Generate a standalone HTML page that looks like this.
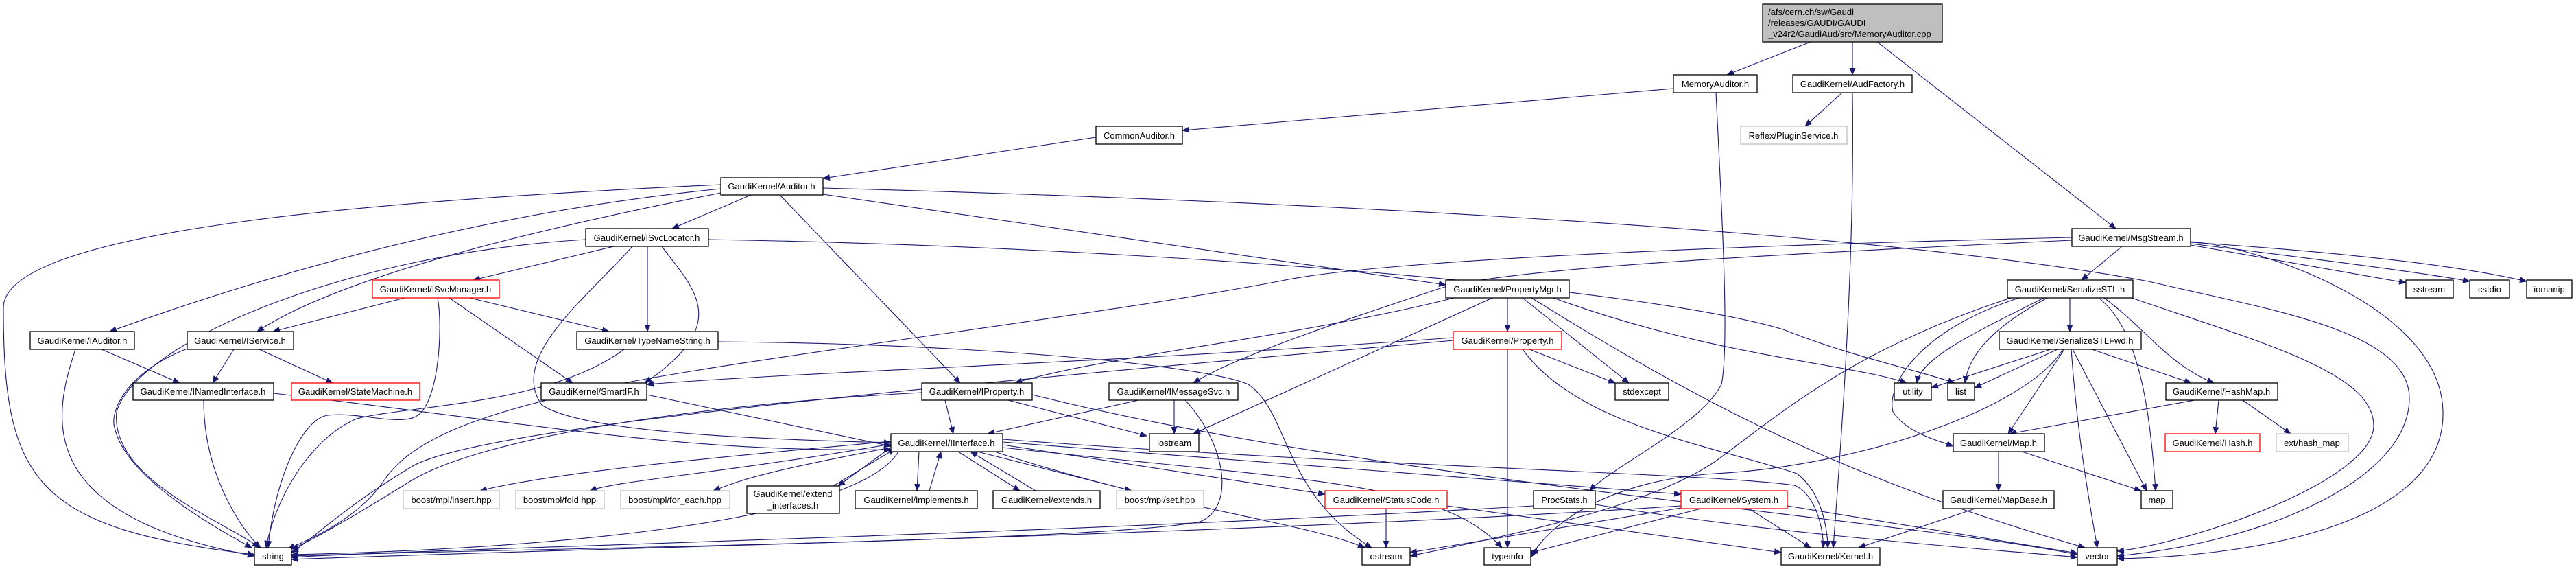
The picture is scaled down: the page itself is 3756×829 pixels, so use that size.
<!DOCTYPE html>
<html><head><meta charset="utf-8">
<style>
html,body{margin:0;padding:0;background:#fff;}
svg{display:block;}
text{font-family:"Liberation Sans",sans-serif;font-size:13px;fill:#000;}
.e{fill:none;stroke:#191970;stroke-width:1.1;marker-end:url(#a);}
.n{fill:#fff;stroke:#000;stroke-width:1.3;}
.r{fill:#fff;stroke:#ff0000;stroke-width:1.3;}
.g{fill:#fff;stroke:#bfbfbf;stroke-width:1.3;}
</style></head><body>
<svg width="3756" height="829" viewBox="0 0 3756 829" xmlns="http://www.w3.org/2000/svg">
<defs><marker id="a" markerUnits="userSpaceOnUse" markerWidth="11" markerHeight="9" refX="10" refY="4.5" orient="auto"><path d="M0,0 L11,4.5 L0,9 z" fill="#191970"/></marker></defs>
<g>
<path class="e" d="M2640,61 L2518,109"/>
<path class="e" d="M2701,61 L2701,109"/>
<path class="e" d="M2737,61 L3085,333"/>
<path class="e" d="M2440,129 L1724,190"/>
<path class="e" d="M2502,135 C2510,300 2522,500 2510,560 C2480,620 2350,680 2318,715"/>
<path class="e" d="M2686,135 L2632,184"/>
<path class="e" d="M2701,135 C2705,400 2680,700 2673,798"/>
<path class="e" d="M1598,200 L1200,260"/>
<path class="e" d="M1051,269 C600,290 0,330 5,450 C5,700 50,770 371,808"/>
<path class="e" d="M1051,275 C800,300 500,360 160,483"/>
<path class="e" d="M1051,281 C800,330 500,400 375,483"/>
<path class="e" d="M1095,284 L980,333"/>
<path class="e" d="M1137,284 L1400,558"/>
<path class="e" d="M1200,283 L2108,415"/>
<path class="e" d="M1200,274 C1800,290 2700,330 3133,410 C3300,450 3513,480 3513,580 C3513,700 3300,790 3087,810"/>
<path class="e" d="M895,359 L690,408"/>
<path class="e" d="M944,359 L944,483"/>
<path class="e" d="M965,359 C1010,420 1070,470 940,558"/>
<path class="e" d="M922,359 C860,430 740,520 790,590 C850,630 1100,640 1299,645"/>
<path class="e" d="M854,349 C500,370 200,500 170,600 C160,700 330,760 378,798"/>
<path class="e" d="M1033,349 C1700,360 2400,420 2600,480 C2700,520 2800,540 2850,558"/>
<path class="e" d="M590,434 L398,483"/>
<path class="e" d="M685,434 L888,483"/>
<path class="e" d="M655,434 L835,558"/>
<path class="e" d="M638,434 C646,477 640,590 606,607 C580,620 520,600 478,605 C440,610 400,700 391,798"/>
<path class="e" d="M148,509 L262,558"/>
<path class="e" d="M110,509 C80,600 40,750 371,810"/>
<path class="e" d="M341,509 L310,558"/>
<path class="e" d="M378,509 L485,558"/>
<path class="e" d="M273,508 C183,543 160,600 167,623 C180,680 260,740 367,798"/>
<path class="e" d="M297,583 C297,700 360,780 380,798"/>
<path class="e" d="M399,573 C800,620 1000,660 1299,655"/>
<path class="e" d="M910,509 C800,590 600,590 520,610 C450,640 400,730 388,798"/>
<path class="e" d="M1047,498 C1400,500 1750,530 1820,560 C1880,600 1870,720 2000,798"/>
<path class="e" d="M3021,346 C2500,358 2000,380 1864,410 C1600,460 1100,520 900,560 C700,600 600,640 560,700 C520,760 440,790 420,800"/>
<path class="e" d="M943,575 L1299,650"/>
<path class="e" d="M2198,434 L2198,483"/>
<path class="e" d="M2220,434 L2375,558"/>
<path class="e" d="M2120,434 C1900,490 1600,520 1480,558"/>
<path class="e" d="M3021,350 C2600,370 2200,390 2100,420 C1950,470 1800,520 1740,558"/>
<path class="e" d="M2176,434 L1740,632"/>
<path class="e" d="M2265,434 C2500,520 2700,530 2780,558"/>
<path class="e" d="M2233,434 C2500,600 2700,700 3040,798"/>
<path class="e" d="M2198,509 L2198,798"/>
<path class="e" d="M2230,509 L2355,558"/>
<path class="e" d="M2119,492 C1600,530 1200,540 943,560"/>
<path class="e" d="M2119,496 C1400,560 700,620 600,680 C500,740 450,790 425,805"/>
<path class="e" d="M2220,509 C2300,620 2500,650 2620,690 C2660,720 2665,780 2665,798"/>
<path class="e" d="M1378,583 L1390,632"/>
<path class="e" d="M1470,583 L1672,635"/>
<path class="e" d="M1344,572 C1000,590 700,640 600,700 C520,750 450,790 425,800"/>
<path class="e" d="M1505,575 C2000,700 2800,760 3029,808"/>
<path class="e" d="M1660,583 L1440,632"/>
<path class="e" d="M1712,583 L1712,632"/>
<path class="e" d="M1728,583 C1790,650 1800,740 1750,760 C1600,790 700,800 425,810"/>
<path class="e" d="M1299,652 L1222,708"/>
<path class="e" d="M1215,708 L1305,654"/>
<path class="e" d="M1340,658 L1337,715"/>
<path class="e" d="M1355,715 L1372,658"/>
<path class="e" d="M1397,658 L1487,715"/>
<path class="e" d="M1510,715 L1415,658"/>
<path class="e" d="M1425,658 L1650,715"/>
<path class="e" d="M1462,648 L1932,720"/>
<path class="e" d="M1450,658 C1700,740 1900,760 1990,798"/>
<path class="e" d="M1462,652 C1900,700 2100,700 2190,798"/>
<path class="e" d="M1462,644 L2451,720"/>
<path class="e" d="M1462,640 C2000,680 2500,690 2616,707 C2650,720 2660,780 2658,798"/>
<path class="e" d="M1310,658 C1250,760 800,800 425,808"/>
<path class="e" d="M1299,643 C1000,670 800,690 700,715"/>
<path class="e" d="M1299,647 C1050,690 900,700 860,715"/>
<path class="e" d="M1299,652 C1100,690 1080,700 1040,715"/>
<path class="e" d="M2021,741 L2021,798"/>
<path class="e" d="M2110,737 L2597,805"/>
<path class="e" d="M2236,737 C1500,780 600,800 425,812"/>
<path class="e" d="M2326,735 C2600,780 2900,800 3029,812"/>
<path class="e" d="M2451,737 C1800,780 800,800 425,815"/>
<path class="e" d="M2480,741 L2232,805"/>
<path class="e" d="M2550,741 L2640,798"/>
<path class="e" d="M2606,737 L3029,806"/>
<path class="e" d="M2451,740 L2056,805"/>
<path class="e" d="M3094,359 L3035,408"/>
<path class="e" d="M3194,357 L3508,412"/>
<path class="e" d="M3194,355 C3400,380 3550,400 3601,410"/>
<path class="e" d="M3194,353 C3450,370 3600,390 3684,410"/>
<path class="e" d="M3194,352 C3300,360 3560,450 3562,600 C3565,760 3300,810 3087,814"/>
<path class="e" d="M3018,434 L3018,483"/>
<path class="e" d="M2980,434 C2890,480 2800,520 2795,558"/>
<path class="e" d="M2985,434 C2900,480 2870,520 2865,558"/>
<path class="e" d="M2944,434 C2800,480 2750,560 2760,600 C2780,630 2820,640 2848,650"/>
<path class="e" d="M3068,434 C3130,480 3160,530 3228,558"/>
<path class="e" d="M3060,434 C3120,480 3135,600 3143,715"/>
<path class="e" d="M3108,434 C3300,500 3461,543 3461,620 C3461,700 3200,790 3087,803"/>
<path class="e" d="M2932,434 C2700,510 2600,600 2500,673 C2400,740 2200,780 2056,810"/>
<path class="e" d="M2990,509 L2816,565"/>
<path class="e" d="M3000,509 L2879,565"/>
<path class="e" d="M3010,509 L2928,632"/>
<path class="e" d="M3050,509 L3195,558"/>
<path class="e" d="M3022,509 L3130,715"/>
<path class="e" d="M3020,509 C3030,650 3050,750 3058,798"/>
<path class="e" d="M3008,509 C2950,600 2700,680 2500,690 C2350,700 2260,760 2232,812"/>
<path class="e" d="M3200,583 L2930,632"/>
<path class="e" d="M3235,583 L3230,632"/>
<path class="e" d="M3270,583 L3340,632"/>
<path class="e" d="M2914,658 L2914,715"/>
<path class="e" d="M2948,658 L3122,715"/>
<path class="e" d="M2880,741 L2710,798"/>
</g>
<g>
<rect x="2570" y="6" width="262" height="55" fill="#bfbfbf" stroke="#000" stroke-width="1.3"/>
<text x="2578" y="22">/afs/cern.ch/sw/Gaudi</text>
<text x="2578" y="38">/releases/GAUDI/GAUDI</text>
<text x="2578" y="54">_v24r2/GaudiAud/src/MemoryAuditor.cpp</text>

<rect class="n" x="2440" y="109" width="122" height="26"/><text x="2501" y="127" text-anchor="middle">MemoryAuditor.h</text>
<rect class="n" x="2614" y="109" width="174" height="26"/><text x="2701" y="127" text-anchor="middle">GaudiKernel/AudFactory.h</text>
<rect class="g" x="2538" y="184" width="155" height="26"/><text x="2615" y="202" text-anchor="middle">Reflex/PluginService.h</text>
<rect class="n" x="1598" y="184" width="126" height="26"/><text x="1661" y="202" text-anchor="middle">CommonAuditor.h</text>
<rect class="n" x="1051" y="259" width="149" height="25"/><text x="1125" y="276" text-anchor="middle">GaudiKernel/Auditor.h</text>
<rect class="n" x="3021" y="333" width="173" height="26"/><text x="3107" y="351" text-anchor="middle">GaudiKernel/MsgStream.h</text>
<rect class="n" x="854" y="333" width="179" height="26"/><text x="943" y="351" text-anchor="middle">GaudiKernel/ISvcLocator.h</text>
<rect class="r" x="543" y="408" width="185" height="26"/><text x="635" y="426" text-anchor="middle">GaudiKernel/ISvcManager.h</text>
<rect class="n" x="2108" y="408" width="180" height="26"/><text x="2198" y="426" text-anchor="middle">GaudiKernel/PropertyMgr.h</text>
<rect class="n" x="2927" y="408" width="183" height="26"/><text x="3018" y="426" text-anchor="middle">GaudiKernel/SerializeSTL.h</text>
<rect class="n" x="3508" y="408" width="69" height="26"/><text x="3542" y="426" text-anchor="middle">sstream</text>
<rect class="n" x="3601" y="408" width="58" height="26"/><text x="3630" y="426" text-anchor="middle">cstdio</text>
<rect class="n" x="3684" y="408" width="66" height="26"/><text x="3717" y="426" text-anchor="middle">iomanip</text>
<rect class="n" x="44" y="483" width="152" height="26"/><text x="120" y="501" text-anchor="middle">GaudiKernel/IAuditor.h</text>
<rect class="n" x="273" y="483" width="155" height="26"/><text x="350" y="501" text-anchor="middle">GaudiKernel/IService.h</text>
<rect class="n" x="841" y="483" width="206" height="26"/><text x="944" y="501" text-anchor="middle">GaudiKernel/TypeNameString.h</text>
<rect class="r" x="2119" y="483" width="158" height="26"/><text x="2198" y="501" text-anchor="middle">GaudiKernel/Property.h</text>
<rect class="n" x="2915" y="483" width="207" height="26"/><text x="3018" y="501" text-anchor="middle">GaudiKernel/SerializeSTLFwd.h</text>
<rect class="n" x="194" y="558" width="205" height="25"/><text x="296" y="575" text-anchor="middle">GaudiKernel/INamedInterface.h</text>
<rect class="r" x="425" y="558" width="187" height="25"/><text x="518" y="575" text-anchor="middle">GaudiKernel/StateMachine.h</text>
<rect class="n" x="789" y="558" width="154" height="25"/><text x="866" y="575" text-anchor="middle">GaudiKernel/SmartIF.h</text>
<rect class="n" x="1344" y="558" width="161" height="25"/><text x="1424" y="575" text-anchor="middle">GaudiKernel/IProperty.h</text>
<rect class="n" x="1617" y="558" width="188" height="25"/><text x="1711" y="575" text-anchor="middle">GaudiKernel/IMessageSvc.h</text>
<rect class="n" x="2355" y="558" width="78" height="25"/><text x="2394" y="575" text-anchor="middle">stdexcept</text>
<rect class="n" x="2762" y="558" width="54" height="25"/><text x="2789" y="575" text-anchor="middle">utility</text>
<rect class="n" x="2840" y="558" width="39" height="25"/><text x="2859" y="575" text-anchor="middle">list</text>
<rect class="n" x="3158" y="558" width="163" height="25"/><text x="3239" y="575" text-anchor="middle">GaudiKernel/HashMap.h</text>
<rect class="n" x="1299" y="632" width="163" height="26"/><text x="1380" y="650" text-anchor="middle">GaudiKernel/IInterface.h</text>
<rect class="n" x="1676" y="632" width="72" height="26"/><text x="1712" y="650" text-anchor="middle">iostream</text>
<rect class="n" x="2848" y="632" width="133" height="26"/><text x="2914" y="650" text-anchor="middle">GaudiKernel/Map.h</text>
<rect class="r" x="3157" y="632" width="138" height="26"/><text x="3226" y="650" text-anchor="middle">GaudiKernel/Hash.h</text>
<rect class="g" x="3319" y="632" width="105" height="26"/><text x="3371" y="650" text-anchor="middle">ext/hash_map</text>
<rect class="g" x="588" y="715" width="140" height="26"/><text x="658" y="733" text-anchor="middle">boost/mpl/insert.hpp</text>
<rect class="g" x="752" y="715" width="129" height="26"/><text x="816" y="733" text-anchor="middle">boost/mpl/fold.hpp</text>
<rect class="g" x="905" y="715" width="159" height="26"/><text x="984" y="733" text-anchor="middle">boost/mpl/for_each.hpp</text>
<rect class="n" x="1089" y="708" width="135" height="40"/><text x="1156" y="724" text-anchor="middle">GaudiKernel/extend</text><text x="1156" y="741" text-anchor="middle">_interfaces.h</text>
<rect class="n" x="1247" y="715" width="178" height="26"/><text x="1336" y="733" text-anchor="middle">GaudiKernel/implements.h</text>
<rect class="n" x="1448" y="715" width="156" height="26"/><text x="1526" y="733" text-anchor="middle">GaudiKernel/extends.h</text>
<rect class="g" x="1628" y="715" width="127" height="26"/><text x="1691" y="733" text-anchor="middle">boost/mpl/set.hpp</text>
<rect class="r" x="1932" y="715" width="178" height="26"/><text x="2021" y="733" text-anchor="middle">GaudiKernel/StatusCode.h</text>
<rect class="n" x="2236" y="715" width="90" height="26"/><text x="2281" y="733" text-anchor="middle">ProcStats.h</text>
<rect class="r" x="2451" y="715" width="155" height="26"/><text x="2528" y="733" text-anchor="middle">GaudiKernel/System.h</text>
<rect class="n" x="2833" y="715" width="162" height="26"/><text x="2914" y="733" text-anchor="middle">GaudiKernel/MapBase.h</text>
<rect class="n" x="3122" y="715" width="46" height="26"/><text x="3145" y="733" text-anchor="middle">map</text>
<rect class="n" x="371" y="798" width="54" height="25"/><text x="398" y="815" text-anchor="middle">string</text>
<rect class="n" x="1986" y="798" width="70" height="25"/><text x="2021" y="815" text-anchor="middle">ostream</text>
<rect class="n" x="2164" y="798" width="68" height="25"/><text x="2198" y="815" text-anchor="middle">typeinfo</text>
<rect class="n" x="2597" y="798" width="144" height="25"/><text x="2669" y="815" text-anchor="middle">GaudiKernel/Kernel.h</text>
<rect class="n" x="3029" y="798" width="58" height="25"/><text x="3058" y="815" text-anchor="middle">vector</text>
</g>
</svg>
</body></html>
